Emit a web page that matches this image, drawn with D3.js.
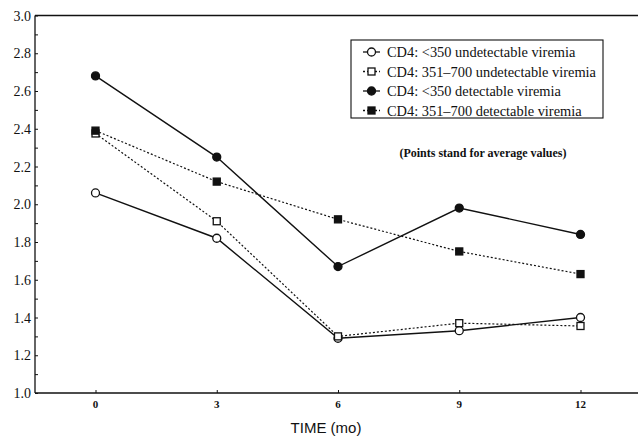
<!DOCTYPE html>
<html>
<head>
<meta charset="utf-8">
<script src="https://cdn.jsdelivr.net/npm/d3@7"></script>
<style>
  body { margin: 0; background: #fff; }
  svg { display: block; }
  .ylab { font-family: "Liberation Serif", serif; font-size: 14px; fill: #111; }
  .xlab { font-family: "Liberation Serif", serif; font-size: 11px; font-weight: bold; fill: #111; }
  .title { font-family: "Liberation Sans", sans-serif; font-size: 15px; fill: #111; }
  .leg { font-family: "Liberation Serif", serif; font-size: 14.4px; fill: #111; }
  .note { font-family: "Liberation Serif", serif; font-size: 12px; font-weight: bold; fill: #111; }
</style>
</head>
<body>
<div id="chart"></div>
<script>
var months = [0, 3, 6, 9, 12];
var yTicks = [1.0, 1.2, 1.4, 1.6, 1.8, 2.0, 2.2, 2.4, 2.6, 2.8, 3.0];

var lowUndetectable = [2.06, 1.82, 1.29, 1.33, 1.40];
var midUndetectable = [2.375, 1.91, 1.30, 1.37, 1.355];
var lowDetectable = [2.68, 2.25, 1.67, 1.98, 1.84];
var midDetectable = [2.39, 2.12, 1.92, 1.75, 1.63];

var seriesNames = [
  'CD4: <350 undetectable viremia',
  'CD4: 351\u2013700 undetectable viremia',
  'CD4: <350 detectable viremia',
  'CD4: 351\u2013700 detectable viremia'
];

var series = [
  { name: seriesNames[0], values: lowUndetectable, shape: 'circle', filled: false, dotted: false },
  { name: seriesNames[1], values: midUndetectable, shape: 'square', filled: false, dotted: true },
  { name: seriesNames[2], values: lowDetectable, shape: 'circle', filled: true, dotted: false },
  { name: seriesNames[3], values: midDetectable, shape: 'square', filled: true, dotted: true }
];

var W = 638, H = 438;
var plotLeft = 35, plotRight = 638, plotTop = 15.5, plotBottom = 393;

var svg = d3.select('#chart').append('svg')
  .attr('width', W)
  .attr('height', H);

var x = d3.scaleLinear().domain([0, 12]).range([95.5, 580.5]);
var y = d3.scaleLinear().domain([1, 3]).range([plotBottom, plotTop]);

var ink = '#111';

// frame: top line and axes (no right border)
svg.append('line')
  .attr('x1', plotLeft).attr('x2', plotRight)
  .attr('y1', plotTop).attr('y2', plotTop)
  .attr('stroke', ink).attr('stroke-width', 1.3);

var yAxis = svg.append('g')
  .attr('transform', 'translate(' + plotLeft + ',0)')
  .call(d3.axisRight(y).tickValues(d3.range(1, 3.001, 0.1)).tickSize(3).tickFormat(''));
yAxis.select('.domain').remove();
yAxis.selectAll('line').attr('stroke', ink);
svg.append('line')
  .attr('x1', plotLeft).attr('x2', plotLeft)
  .attr('y1', plotTop).attr('y2', plotBottom)
  .attr('stroke', ink).attr('stroke-width', 1.3);

svg.selectAll('.ylab')
  .data(yTicks)
  .enter().append('text')
  .attr('class', 'ylab')
  .attr('x', 31)
  .attr('y', function(d) { return y(d) + 5; })
  .attr('text-anchor', 'end')
  .text(function(d) { return d.toFixed(1); });

var xAxis = svg.append('g')
  .attr('transform', 'translate(0,' + plotBottom + ')')
  .call(d3.axisTop(x).tickValues(months).tickSize(3).tickFormat(''));
xAxis.select('.domain').remove();
xAxis.selectAll('line').attr('stroke', ink);
svg.append('line')
  .attr('x1', plotLeft).attr('x2', plotRight)
  .attr('y1', plotBottom).attr('y2', plotBottom)
  .attr('stroke', ink).attr('stroke-width', 1.3);

svg.selectAll('.xlab')
  .data(months)
  .enter().append('text')
  .attr('class', 'xlab')
  .attr('x', function(d) { return x(d); })
  .attr('y', 408)
  .attr('text-anchor', 'middle')
  .text(function(d) { return d; });

svg.append('text')
  .attr('class', 'title')
  .attr('x', 326)
  .attr('y', 433)
  .attr('text-anchor', 'middle')
  .text('TIME (mo)');

// lines
var line = d3.line()
  .x(function(d, i) { return x(months[i]); })
  .y(function(d) { return y(d); });

function drawMarker(g, s, cx, cy) {
  if (s.shape === 'circle') {
    g.append('circle')
      .attr('cx', cx).attr('cy', cy).attr('r', 4)
      .attr('fill', s.filled ? ink : '#fff')
      .attr('stroke', ink).attr('stroke-width', 1.3);
  } else {
    g.append('rect')
      .attr('x', cx - 3.5).attr('y', cy - 3.5)
      .attr('width', 7).attr('height', 7)
      .attr('fill', s.filled ? ink : '#fff')
      .attr('stroke', ink).attr('stroke-width', 1.3);
  }
}

series.forEach(function(s) {
  svg.append('path')
    .datum(s.values)
    .attr('d', line)
    .attr('fill', 'none')
    .attr('stroke', ink)
    .attr('stroke-width', s.dotted ? 1.2 : 1.4)
    .attr('stroke-dasharray', s.dotted ? '2,2' : null);
});
series.forEach(function(s) {
  var g = svg.append('g');
  s.values.forEach(function(v, i) { drawMarker(g, s, x(months[i]), y(v)); });
});

// legend
var legend = svg.append('g');
legend.append('rect')
  .attr('x', 351).attr('y', 40)
  .attr('width', 252).attr('height', 78)
  .attr('fill', '#fff')
  .attr('stroke', ink).attr('stroke-width', 1.1);

series.forEach(function(s, i) {
  var cy = 52 + i * 19.5;
  var g = legend.append('g');
  g.append('line')
    .attr('x1', 363).attr('x2', 380)
    .attr('y1', cy).attr('y2', cy)
    .attr('stroke', ink).attr('stroke-width', 1.3)
    .attr('stroke-dasharray', s.dotted ? '2,2' : null);
  drawMarker(g, s, 371.5, cy);
  g.append('text')
    .attr('class', 'leg')
    .attr('x', 387)
    .attr('y', cy + 5)
    .text(s.name);
});

svg.append('text')
  .attr('class', 'note')
  .attr('x', 483)
  .attr('y', 157)
  .attr('text-anchor', 'middle')
  .text('(Points stand for average values)');
</script>
</body>
</html>
